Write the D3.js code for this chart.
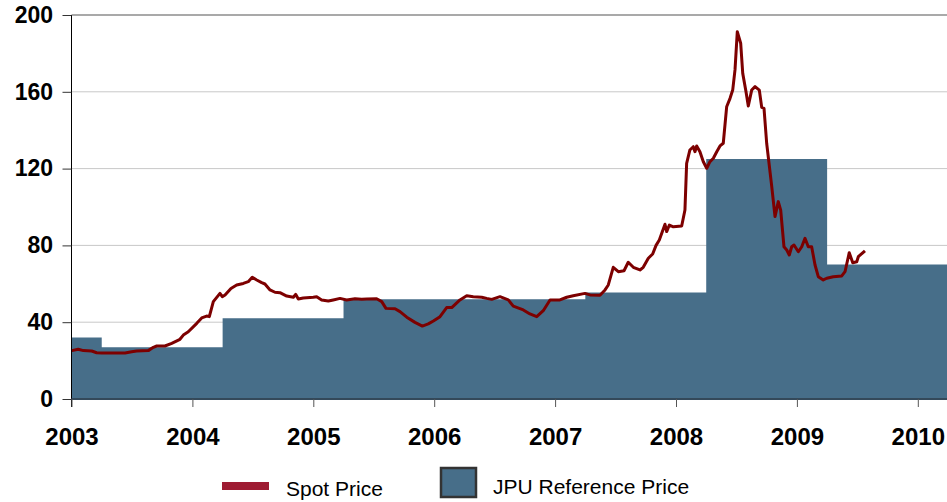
<!DOCTYPE html>
<html>
<head>
<meta charset="utf-8">
<script src="https://d3js.org/d3.v7.min.js"></script>
<style>
  body { margin: 0; background: #fff; }
  text { font-family: Arial, "Liberation Sans", sans-serif; }
</style>
</head>
<body>
<svg width="947" height="502"></svg>
<script>
// JPU reference price: value holds from each start until the next start
var refStarts = [2003, 2003.25, 2004.25, 2005.25, 2007.25, 2008.25, 2009.25, 2010.25];
var refValues = [32, 27, 42, 52, 55.5, 125, 70, 70];

// spot price, decimal year / price
var spotYears = [2003.002, 2003.056, 2003.098, 2003.167, 2003.208, 2003.250, 2003.443, 2003.498, 2003.539, 2003.635,
  2003.677, 2003.705, 2003.773, 2003.829, 2003.897, 2003.925, 2003.966, 2004.036, 2004.077, 2004.118,
  2004.140, 2004.173, 2004.228, 2004.247, 2004.270, 2004.319, 2004.366, 2004.421, 2004.462, 2004.495,
  2004.532, 2004.573, 2004.600, 2004.642, 2004.683, 2004.724, 2004.780, 2004.835, 2004.854, 2004.876,
  2004.917, 2005.000, 2005.028, 2005.069, 2005.124, 2005.165, 2005.221, 2005.276, 2005.345, 2005.400,
  2005.442, 2005.524, 2005.566, 2005.601, 2005.676, 2005.717, 2005.773, 2005.841, 2005.902, 2005.951,
  2005.993, 2006.048, 2006.103, 2006.145, 2006.213, 2006.269, 2006.323, 2006.393, 2006.434, 2006.476,
  2006.544, 2006.613, 2006.654, 2006.737, 2006.792, 2006.848, 2006.902, 2006.958, 2007.040, 2007.096,
  2007.150, 2007.247, 2007.289, 2007.371, 2007.413, 2007.440, 2007.481, 2007.523, 2007.570, 2007.605,
  2007.647, 2007.702, 2007.729, 2007.771, 2007.807, 2007.835, 2007.862, 2007.909, 2007.923, 2007.945,
  2007.978, 2008.047, 2008.074, 2008.088, 2008.115, 2008.143, 2008.157, 2008.171, 2008.198, 2008.226,
  2008.254, 2008.281, 2008.309, 2008.337, 2008.364, 2008.391, 2008.419, 2008.447, 2008.469, 2008.488,
  2008.507, 2008.535, 2008.552, 2008.579, 2008.598, 2008.626, 2008.654, 2008.689, 2008.709, 2008.728,
  2008.750, 2008.792, 2008.819, 2008.846, 2008.866, 2008.893, 2008.916, 2008.937, 2008.957, 2008.976,
  2009.012, 2009.040, 2009.067, 2009.094, 2009.122, 2009.150, 2009.177, 2009.218, 2009.247, 2009.301,
  2009.371, 2009.398, 2009.433, 2009.462, 2009.495, 2009.508, 2009.563];
var spotValues = [25.2, 25.9, 25.2, 25.0, 24.1, 24.0, 24.0, 24.6, 25.0, 25.2,
  26.9, 27.6, 27.6, 29.0, 31.1, 33.3, 35.0, 39.4, 42.2, 43.2,
  42.9, 50.7, 55.0, 53.3, 54.2, 57.6, 59.4, 60.2, 61.1, 63.4,
  62.0, 60.6, 59.9, 56.8, 55.6, 55.4, 53.6, 53.0, 54.5, 52.1,
  52.6, 53.0, 53.3, 51.6, 51.0, 51.6, 52.4, 51.6, 52.2, 51.9,
  52.1, 52.2, 50.7, 47.2, 47.0, 45.5, 42.6, 39.9, 38.0, 39.1,
  40.6, 42.9, 47.6, 47.6, 51.6, 53.8, 53.3, 53.0, 52.4, 51.9,
  53.3, 51.6, 48.4, 46.4, 44.3, 42.9, 46.0, 51.6, 51.6, 53.0,
  53.8, 55.0, 54.2, 54.0, 56.8, 59.4, 68.6, 66.3, 66.8, 71.2,
  68.6, 67.2, 68.6, 73.3, 75.5, 80.0, 82.8, 91.0, 87.2, 90.6,
  89.7, 90.1, 98.4, 122.7, 129.7, 131.4, 128.8, 131.8, 128.8, 123.6,
  120.2, 123.6, 125.4, 128.8, 131.8, 133.2, 152.2, 156.6, 160.9, 171.4,
  191.3, 185.3, 169.6, 160.0, 152.6, 160.9, 162.7, 160.9, 151.9, 151.4,
  133.2, 110.6, 95.0, 102.8, 98.4, 79.3, 77.6, 75.0, 79.3, 80.2,
  76.7, 79.3, 83.7, 79.3, 79.3, 69.8, 63.7, 62.0, 62.9, 63.7,
  64.1, 66.3, 76.2, 71.0, 71.5, 74.1, 77.2];

var yearTicks = [2003, 2004, 2005, 2006, 2007, 2008, 2009, 2010];
var priceTicks = [0, 40, 80, 120, 160, 200];
var seriesNames = ["Spot Price", "JPU Reference Price"];

var svg = d3.select("svg");
var x = d3.scaleLinear().domain([2003, 2010]).range([71.5, 917.8]);
var y = d3.scaleLinear().domain([0, 200]).range([399, 15]);
var rightEdge = 947;

// gridlines
svg.append("g").selectAll("line").data(priceTicks.slice(1)).enter()
  .append("line")
  .attr("x1", x(2003)).attr("x2", rightEdge)
  .attr("y1", function(d) { return y(d); }).attr("y2", function(d) { return y(d); })
  .attr("stroke", function(d) { return d == 200 ? "#8c8c8c" : "#c8c8c8"; })
  .attr("stroke-width", function(d) { return d == 200 ? 1.5 : 1; });

// reference price as a step area
var ref = refStarts.map(function(d, i) { return [d, refValues[i]]; });
svg.append("path")
  .datum(ref)
  .attr("fill", "#476e89")
  .attr("d", d3.area().curve(d3.curveStepAfter)
    .x(function(d) { return x(d[0]); })
    .y0(y(0))
    .y1(function(d) { return y(d[1]); }));

// spot price line
var spot = spotYears.map(function(d, i) { return [d, spotValues[i]]; });
svg.append("path")
  .datum(spot)
  .attr("fill", "none")
  .attr("stroke", "#7d0000")
  .attr("stroke-width", 3)
  .attr("stroke-linejoin", "round")
  .attr("d", d3.line()
    .x(function(d) { return x(d[0]); })
    .y(function(d) { return y(d[1]); }));

// axes
var yAxis = svg.append("g")
  .attr("transform", "translate(" + x(2003) + ",0)")
  .call(d3.axisLeft(y).tickValues(priceTicks).tickSize(9).tickPadding(9.5));
yAxis.select(".domain").attr("stroke", "#000").attr("d", "M0," + y(200) + "V407");
yAxis.selectAll(".tick line").attr("stroke", "#333");
yAxis.selectAll("text").attr("font-size", 23).attr("font-weight", "bold").attr("fill", "#000");

var xAxis = svg.append("g")
  .attr("transform", "translate(0," + y(0) + ")")
  .call(d3.axisBottom(x).tickValues(yearTicks).tickFormat(d3.format("d")).tickSize(8).tickPadding(21));
xAxis.select(".domain").attr("stroke", "#34495a").attr("stroke-width", 2)
  .attr("d", "M" + x(2003) + ",0H" + rightEdge);
xAxis.selectAll(".tick line").attr("stroke", "#555");
xAxis.selectAll("text").attr("font-size", 24).attr("font-weight", "bold").attr("fill", "#000");

// legend
var legend = svg.append("g");
legend.append("rect").attr("x", 222).attr("y", 482).attr("width", 47).attr("height", 8).attr("fill", "#9e1b32");
legend.append("text").attr("x", 286).attr("y", 496).attr("font-size", 21).text(seriesNames[0]);
legend.append("rect").attr("x", 441).attr("y", 468).attr("width", 35).attr("height", 29)
  .attr("fill", "#476e89").attr("stroke", "#333").attr("stroke-width", 2.5);
legend.append("text").attr("x", 493).attr("y", 494).attr("font-size", 21).text(seriesNames[1]);
</script>
</body>
</html>
